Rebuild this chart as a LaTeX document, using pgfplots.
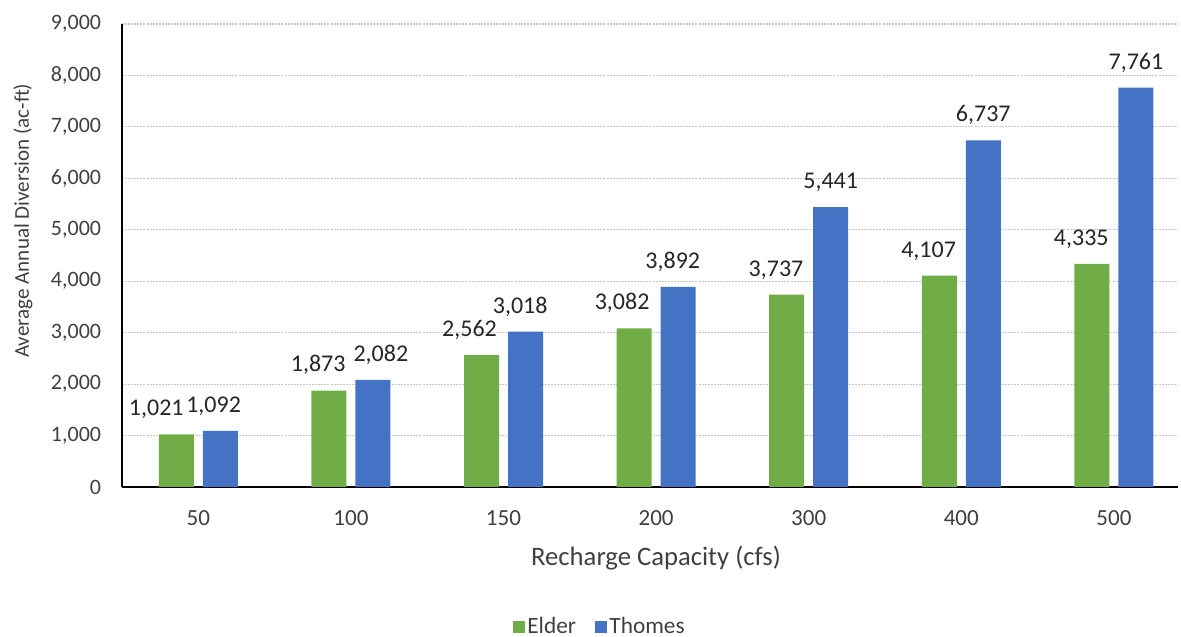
\documentclass[border=0pt]{standalone}
\usepackage{pgfplots}
\pgfplotsset{compat=1.18}
\usepackage{fontspec}
\setmainfont{Carlito}
\definecolor{elder}{HTML}{70AD47}
\definecolor{thomes}{HTML}{4472C4}
\definecolor{txt}{HTML}{404040}
\definecolor{lbl}{HTML}{262626}
\begin{document}
\fontsize{16.5}{19}\selectfont
\begin{tikzpicture}
\begin{axis}[
  name=ax,
  scale only axis,
  width=792pt, height=347.25pt,
  ybar=6.75pt, bar width=26.25pt,
  xmin=-0.5, xmax=6.42,
  ymin=0, ymax=9000,
  ytick={0,1000,...,9000},
  xtick={0,1,2,3,4,5,6},
  xticklabels={50,100,150,200,300,400,500},
  major tick length=0pt,
  axis x line*=bottom, axis y line*=left,
  axis line style={black, line width=1.3pt},
  x axis line style={-}, y axis line style={-},
  ymajorgrids,
  grid style={draw=black!22, line width=0.8pt, dash pattern=on 1.5pt off 0.8pt},
  /pgf/number format/assume math mode=true,
  /pgf/number format/.cd, 1000 sep={,}, fixed, precision=0, /pgfplots/.cd,
  tick label style={text=txt},
  yticklabel style={font=\fontsize{16.5}{19}\selectfont, xshift=-10pt},
  xticklabel style={font=\fontsize{17.3}{19}\selectfont, yshift=-12pt},
  xlabel={Recharge Capacity (cfs)},
  ylabel={Average Annual Diversion (ac-ft)},
  xlabel style={font=\fontsize{20}{22}\selectfont, text=txt, at={(axis description cs:0.5057,-0.153)}, anchor=center},
  ylabel style={font=\fontsize{15.8}{18}\selectfont, text=txt, at={(axis description cs:-0.0938,0.575)}, anchor=center, rotate=0},
  legend style={at={(0.4527,-0.302)}, anchor=center, draw=none, fill=none,
    legend columns=2, font=\fontsize{17.5}{19}\selectfont, text=txt,
    /tikz/every even column/.append style={column sep=12pt}},
  legend image code/.code={\fill[#1] (0pt,-4.5pt) rectangle (9pt,4.5pt);},
  point meta=explicit symbolic,
  visualization depends on={y \as \rawy},
  nodes near coords={\pgfmathprintnumber{\rawy}},
  every node near coord/.append style={font=\fontsize{18}{20}\selectfont, text=lbl, yshift=6pt, xshift=\pgfplotspointmeta pt},
]
\addplot[fill=elder, draw=none] coordinates {
  (0,1021) [-15] (1,1873) [-8] (2,2562) [-9] (3,3082) [-9] (4,3737) [-8] (5,4107) [-8] (6,4335) [-8]};
\addplot[fill=thomes, draw=none] coordinates {
  (0,1092) [-5] (1,2082) [6] (2,3018) [-4] (3,3892) [-4] (4,5441) [0] (5,6737) [0] (6,7761) [0]};
\legend{Elder, Thomes}
\end{axis}
\pgfresetboundingbox
\path[use as bounding box] ([xshift=-91.5pt,yshift=-112.5pt]ax.south west) rectangle ([xshift=2.25pt,yshift=18pt]ax.north east);
\end{tikzpicture}
\end{document}
